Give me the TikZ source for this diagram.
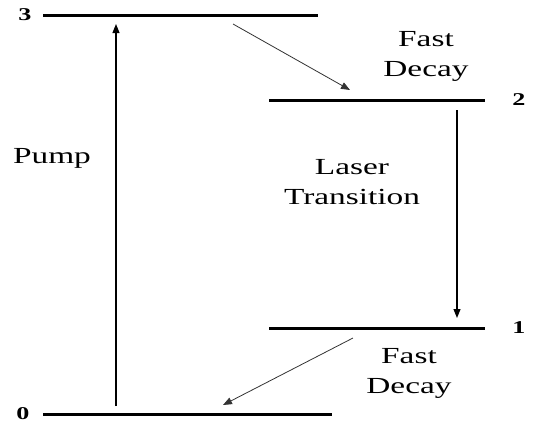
\documentclass[tikz,border=0pt]{standalone}
\usepackage{fontspec}
\setmainfont{Liberation Serif}
\newfontfamily\widefont[FakeStretch=1.45]{Liberation Serif}
\usetikzlibrary{arrows.meta, positioning}

\begin{document}
\begin{tikzpicture}[
  x=1pt, y=-1pt,
  level/.style={line width=3pt},
  trans/.style={-{Triangle[length=9pt, width=7pt]}, line width=1.1pt},
  decay/.style={-{Triangle[length=9pt, width=7pt]}, line width=0.8pt, black!80},
  lbl/.style={font=\widefont\fontsize{23}{30}\selectfont, align=center, inner sep=0pt},
  num/.style={font=\widefont\fontsize{18}{20}\selectfont\bfseries, inner sep=0pt}
]
\useasboundingbox (0,0) rectangle (547,424);

% energy levels
\coordinate (l3a) at (43,15);  \coordinate (l3b) at (318,15);
\coordinate (l2a) at (269,100); \coordinate (l2b) at (485,100);
\coordinate (l1a) at (269,328); \coordinate (l1b) at (485,328);
\coordinate (l0a) at (43,414);  \coordinate (l0b) at (332,414);
\draw[level] (l3a) -- (l3b);
\draw[level] (l2a) -- (l2b);
\draw[level] (l1a) -- (l1b);
\draw[level] (l0a) -- (l0b);

\node[num] (n3) at (25,15) {3};
\node[num] (n2) at (519,100) {2};
\node[num] (n1) at (519,328) {1};
\node[num] (n0) at (23,414) {0};

% transitions
\coordinate (pumpfrom) at (116,406); \coordinate (pumpto) at (116,24);
\draw[trans] (pumpfrom) -- (pumpto);
\coordinate (fd1from) at (233,24); \coordinate (fd1to) at (350,90);
\draw[decay] (fd1from) -- (fd1to);
\coordinate (lasfrom) at (457,110); \coordinate (lasto) at (457,318);
\draw[trans] (lasfrom) -- (lasto);
\coordinate (fd2from) at (353,338); \coordinate (fd2to) at (223,405);
\draw[decay] (fd2from) -- (fd2to);

\node[lbl] (pump) at (52,158) {Pump};
\node[lbl] (fast1) at (426,56) {Fast\\Decay};
\node[lbl] (laser) at (352,182) {Laser\\Transition};
\node[lbl] (fast2) at (409,373) {Fast\\Decay};
\end{tikzpicture}
\end{document}
